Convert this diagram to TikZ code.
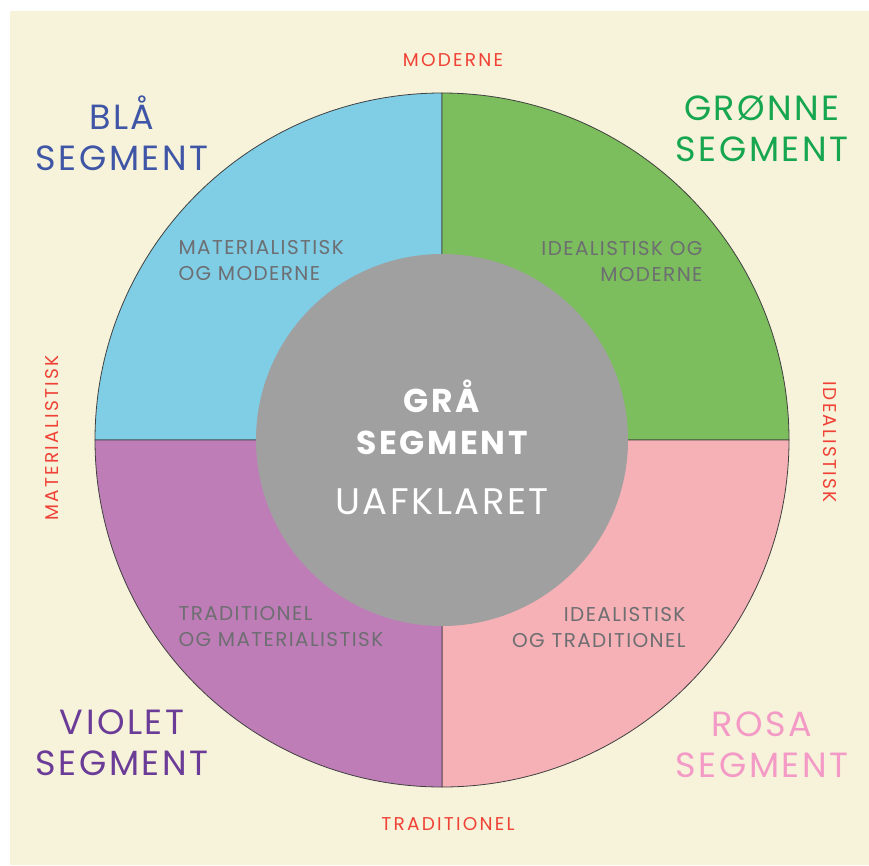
\documentclass[tikz,border=0pt]{standalone}
\usepackage{fontspec}
\setmainfont{Poppins}
\usetikzlibrary{positioning,calc}

\definecolor{beige}{HTML}{F7F3DA}
\definecolor{blaafill}{HTML}{80CDE6}
\definecolor{groenfill}{HTML}{7CBD5D}
\definecolor{rosafill}{HTML}{F5B1B6}
\definecolor{violetfill}{HTML}{BF7DB8}
\definecolor{graafill}{HTML}{A0A0A0}
\definecolor{blaatext}{HTML}{3F56A6}
\definecolor{groentext}{HTML}{17A650}
\definecolor{violettext}{HTML}{6A3C97}
\definecolor{rosatext}{HTML}{F39AC6}
\definecolor{aksetext}{HTML}{EF4136}
\definecolor{innertext}{HTML}{6D6E71}

\begin{document}
\begin{tikzpicture}[x=1pt,y=-1pt,
    seglabel/.style={align=center,font=\addfontfeature{LetterSpace=7}\fontsize{35}{41}\selectfont},
    akse/.style={text=aksetext,font=\addfontfeature{LetterSpace=12}\fontsize{18.5}{20}\selectfont},
    inner/.style={text=innertext,font=\addfontfeature{LetterSpace=7}\fontsize{20}{26}\selectfont}]
    % Background
    \fill[white] (0,0) rectangle (869,865);
    \fill[beige] (10,11) rectangle (869,865);

    % Quadrants
    \foreach \a/\col in {180/blaafill,270/groenfill,0/rosafill,90/violetfill} {
        \filldraw[fill=\col,draw=black!75,line width=0.8pt] (442,440) -- ++(\a:347)
            arc[start angle=\a,delta angle=90,radius=347] -- cycle;
    }

    % Grey core
    \node[circle,fill=graafill,minimum size=372pt,inner sep=0pt] (kerne) at (442,440) {};
    \node[text=white,align=center,font=\bfseries\addfontfeature{LetterSpace=8}\fontsize{33}{42}\selectfont] (graa) at (442,417) {GRÅ\\SEGMENT};
    \node[text=white,font=\addfontfeature{LetterSpace=7}\fontsize{37}{44}\selectfont] (uafklaret) at (442,502) {UAFKLARET};

    % Segment names
    \node[seglabel,text=blaatext] (blaa) at (122,133) {BLÅ\\SEGMENT};
    \node[seglabel,text=groentext] (groen) at (762,129) {GRØNNE\\SEGMENT};
    \node[seglabel,text=violettext] (violet) at (122,743) {VIOLET\\SEGMENT};
    \node[seglabel,text=rosatext] (rosa) at (762,745) {ROSA\\SEGMENT};

    % Axes
    \node[akse] (moderne) at (453,60) {MODERNE};
    \node[akse] (traditionel) at (448,824) {TRADITIONEL};
    \node[akse,rotate=90] (materialistisk) at (52,438) {MATERIALISTISK};
    \node[akse,rotate=-90] (idealistisk) at (830,442) {IDEALISTISK};

    % Quadrant descriptions
    \node[inner,align=left,anchor=west] (matmod) at (175,261) {MATERIALISTISK\\OG MODERNE};
    \node[inner,align=right,anchor=east] (idemod) at (706,262) {IDEALISTISK OG\\MODERNE};
    \node[inner,align=left,anchor=west] (tradmat) at (175,627) {TRADITIONEL\\OG MATERIALISTISK};
    \node[inner,align=right,anchor=east] (idetrad) at (689,627) {IDEALISTISK\\OG TRADITIONEL};
\end{tikzpicture}
\end{document}
